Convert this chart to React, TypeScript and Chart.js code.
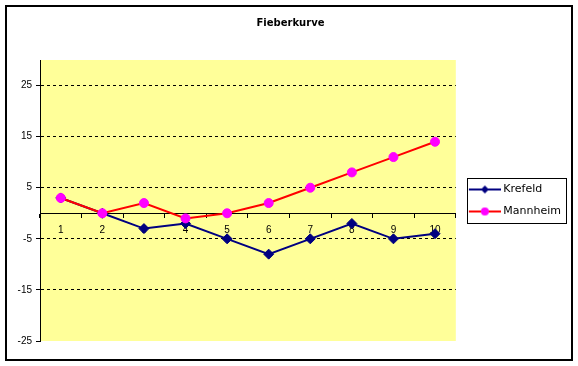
import React, { useEffect, useRef } from "react";
import { Chart, registerables } from "chart.js";

Chart.register(...registerables);

const categories = ["1", "2", "3", "4", "5", "6", "7", "8", "9", "10"];
const seriesNames = ["Krefeld", "Mannheim"];
const krefeld = [3, 0, -3, -2, -5, -8, -5, -2, -5, -4];
const mannheim = [3, 0, 2, -1, 0, 2, 5, 8, 11, 14];
const yTicks = [-25, -15, -5, 5, 15, 25];
const titleText = "Fieberkurve";

const NAVY = "#000080";
const RED = "#FF0000";
const MAGENTA = "#FF00FF";
const PLOT_BG = "#FFFF99";

function makeSwatch(lineColor: string, markerColor: string, shape: "diamond" | "circle") {
  const c = document.createElement("canvas");
  c.width = 37;
  c.height = 12;
  const g = c.getContext("2d")!;
  g.strokeStyle = lineColor;
  g.lineWidth = 2;
  g.beginPath();
  g.moveTo(5, 6);
  g.lineTo(37, 6);
  g.stroke();
  g.fillStyle = markerColor;
  g.beginPath();
  if (shape === "diamond") {
    g.moveTo(21, 2);
    g.lineTo(25, 6);
    g.lineTo(21, 10);
    g.lineTo(17, 6);
    g.closePath();
  } else {
    g.arc(21, 6, 4, 0, Math.PI * 2);
  }
  g.fill();
  return c;
}

const decorPlugin = {
  id: "decor",
  beforeDraw(chart: any) {
    const { ctx, chartArea: a } = chart;
    ctx.save();
    ctx.fillStyle = "#FFFFFF";
    ctx.fillRect(0, 0, chart.width, chart.height);
    ctx.fillStyle = PLOT_BG;
    ctx.fillRect(a.left, a.top, a.right - a.left, a.bottom - a.top);
    ctx.restore();
  },
  afterDraw(chart: any) {
    const { ctx } = chart;
    ctx.save();
    ctx.strokeStyle = "#000";
    ctx.lineWidth = 2;
    ctx.strokeRect(6, 6, 566, 354);
    const lg = chart.legend;
    if (lg && lg.legendHitBoxes && lg.legendHitBoxes.length) {
      const hb = lg.legendHitBoxes;
      const first = hb[0];
      const last = hb[hb.length - 1];
      const x = Math.round(first.left) + 0.5;
      const y = Math.round(first.top - 6) + 0.5;
      const h = Math.round(last.top + last.height + 6) - Math.round(first.top - 6);
      ctx.lineWidth = 1;
      ctx.strokeRect(x, y, 99, h);
    }
    ctx.restore();
  },
};

export default function App() {
  const ref = useRef<HTMLCanvasElement | null>(null);

  useEffect(() => {
    if (!ref.current) return;
    const swatches = [
      makeSwatch(NAVY, NAVY, "diamond"),
      makeSwatch(RED, MAGENTA, "circle"),
    ];
    const tickFont = { family: "Liberation Sans", size: 10 };
    const chart = new Chart(ref.current, {
      type: "line",
      data: {
        labels: categories,
        datasets: [
          {
            label: seriesNames[0],
            data: krefeld,
            borderColor: NAVY,
            backgroundColor: NAVY,
            borderWidth: 2,
            pointStyle: "rectRot",
            pointRadius: 5,
            pointBackgroundColor: NAVY,
            pointBorderColor: NAVY,
            pointBorderWidth: 1,
            tension: 0,
            fill: false,
            order: 1,
          },
          {
            label: seriesNames[1],
            data: mannheim,
            borderColor: RED,
            backgroundColor: MAGENTA,
            borderWidth: 2,
            pointStyle: "circle",
            pointRadius: 4.5,
            pointBackgroundColor: MAGENTA,
            pointBorderColor: MAGENTA,
            pointBorderWidth: 1,
            tension: 0,
            fill: false,
            order: 0,
          },
        ],
      },
      options: {
        responsive: false,
        animation: false,
        events: [],
        devicePixelRatio: 1,
        layout: { padding: { left: 10, right: 7, top: 0, bottom: 25 } },
        plugins: {
          tooltip: { enabled: false },
          title: {
            display: true,
            text: titleText,
            color: "#000",
            font: { family: "DejaVu Sans", size: 10, weight: "bold" },
            padding: { top: 17, bottom: 31 },
          },
          legend: {
            display: true,
            position: "right",
            align: "center",
            fullSize: false,
            labels: {
              usePointStyle: true,
              pointStyleWidth: 31,
              padding: 11,
              color: "#000",
              font: { family: "DejaVu Sans", size: 11 },
              generateLabels: (ch: any) =>
                ch.data.datasets.map((ds: any, i: number) => ({
                  text: ds.label,
                  pointStyle: swatches[i],
                  datasetIndex: i,
                  hidden: false,
                  lineWidth: 0,
                  strokeStyle: "rgba(0,0,0,0)",
                  fillStyle: "rgba(0,0,0,0)",
                  fontColor: "#000",
                })),
            },
          },
        },
        scales: {
          x: {
            type: "category",
            offset: true,
            position: { y: 0 } as any,
            grid: {
              offset: true,
              drawOnChartArea: false,
              drawTicks: true,
              tickLength: 4,
              color: "#000",
              lineWidth: 1,
            },
            border: { display: true, color: "#000", width: 1 },
            ticks: {
              color: "#000",
              font: tickFont,
              padding: 7,
              maxRotation: 0,
              autoSkip: false,
            },
          },
          y: {
            type: "linear",
            position: "left",
            min: -25,
            max: 30,
            afterBuildTicks: (s: any) => {
              s.ticks = yTicks.map((v) => ({ value: v }));
            },
            afterFit: (s: any) => {
              s.width = 30;
            },
            grid: {
              color: (c: any) => (c.tick && c.tick.value === -25 ? "rgba(0,0,0,0)" : "#000"),
              tickColor: "#000",
              tickLength: 4,
              lineWidth: 1,
              drawTicks: true,
            },
            border: { display: true, color: "#000", width: 1, dash: [3, 3] },
            ticks: {
              color: "#000",
              font: tickFont,
              padding: 4,
              callback: (v: any) => String(v),
            },
          },
        },
      },
      plugins: [decorPlugin],
    } as any);
    return () => chart.destroy();
  }, []);

  return (
    <div style={{ position: "fixed", left: 0, top: 0, width: 578, height: 366, background: "#fff" }}>
      <canvas ref={ref} width={578} height={366} style={{ width: 578, height: 366, display: "block" }} />
    </div>
  );
}
